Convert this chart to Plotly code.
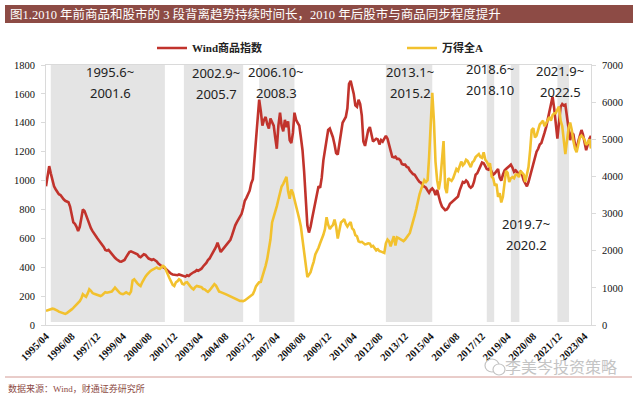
import plotly.graph_objects as go
import pandas as pd

# ---------------- data (monthly, 1995/04 - 2023/08) ----------------
commodity_1995_2002 = [
    960, 1030, 1100, 1050, 1000, 960, 940, 920, 905,
    900, 880, 870, 860, 855, 850, 820, 760, 710, 700, 680, 650,
    680, 740, 800, 790, 760, 720, 690, 670, 650, 630, 610, 600,
    585, 570, 560, 540, 520, 515, 520, 505, 490, 480, 465, 455,
    445, 440, 438, 445, 450, 470, 490, 505, 510, 505, 505, 500,
    490, 475, 470, 480, 490, 485, 470, 460, 455, 450, 455, 450,
    440, 425, 415, 410, 400, 395, 385, 370, 360, 355, 350, 348,
    350, 345, 350, 345, 340, 335, 335, 345, 340, 350, 360, 365,
]
commodity_2003_2010 = [
    370, 380, 375, 380, 390, 405, 415, 430, 450, 460, 480, 500,
    515, 540, 570, 530, 505, 520, 535, 545, 560, 580, 590, 620,
    660, 690, 710, 730, 750, 770, 810, 860, 880, 900, 930, 980,
    1010, 1150, 1280, 1420, 1560, 1480, 1380, 1420, 1440, 1390, 1360, 1430,
    1410, 1380, 1300, 1220, 1380, 1470, 1380, 1340, 1420, 1370, 1410, 1280,
    1260, 1330, 1470, 1420, 1400, 1380, 1300, 1210, 1060, 840, 690, 640,
    680, 740, 790, 850, 920, 960, 950, 1020, 1140, 1210, 1270, 1350,
    1360, 1330, 1300, 1250, 1190, 1180, 1250, 1300, 1400, 1420, 1440, 1500,
]
commodity_2011_2018 = [
    1670, 1690, 1650, 1600, 1520, 1510, 1560, 1530, 1450, 1270, 1240, 1290,
    1350, 1370, 1330, 1270, 1280, 1290, 1285, 1250, 1280, 1270, 1290, 1310,
    1290, 1250, 1200, 1165, 1160, 1165, 1150, 1150, 1140, 1115, 1110, 1110,
    1095, 1090, 1070, 1055, 1045, 1040, 1020, 1005, 990, 985, 965, 955,
    950, 930, 915, 935, 945, 930, 900, 935, 880, 850, 820, 805,
    795, 800, 815, 840, 850, 860, 870, 880, 890, 930, 970, 990,
    985, 1000, 990, 960, 950, 960, 990, 1040, 1050, 1080, 1100, 1125,
    1120, 1100, 1080, 1075, 1090, 1060, 1040, 1050, 1065, 1080, 1020, 1000,
]
commodity_2019_2023 = [
    1040, 1070, 1080, 1090, 1100, 1110, 1090, 1060, 1070, 1055, 1045, 1060,
    1040, 1000, 975, 960, 990, 1030, 1070, 1110, 1150, 1200, 1220, 1250,
    1260, 1290, 1330, 1370, 1420, 1490, 1520, 1580, 1500, 1380, 1290, 1400,
    1510, 1530, 1520, 1525, 1440, 1350, 1280, 1330, 1320, 1250, 1220, 1270,
    1320, 1350, 1320, 1270, 1210, 1250, 1290, 1310,
]

winda_1995_2002 = [
    380, 400, 420, 430, 440, 430, 420, 390, 360,
    340, 320, 300, 300, 320, 350, 375, 420, 460, 500, 560, 600,
    640, 720, 830, 790, 760, 850, 960, 920, 860, 840, 830, 810,
    790, 780, 800, 850, 885, 870, 880, 880, 900, 950, 1010, 960,
    900, 860, 840, 830, 850, 880, 850, 830, 900, 1200, 1230, 1160,
    1120, 1080, 1050, 1150, 1240, 1300, 1360, 1420, 1450, 1480, 1500, 1540,
    1550, 1520, 1510, 1560, 1590, 1560, 1450, 1370, 1260, 1170, 1080, 1050,
    1150, 1180, 1230, 1200, 1110, 1090, 1140, 1150, 1080, 1040, 990, 960,
]
winda_2003_2010 = [
    1020, 1050, 1040, 1040, 1020, 970, 960, 920, 890, 930, 990, 1070,
    1100, 1060, 990, 900, 885, 860, 840, 830, 810, 790, 770, 740,
    710, 700, 690, 660, 645, 650, 640, 660, 690, 730, 750, 790,
    830, 930, 1040, 1100, 1150, 1160, 1300, 1420, 1600, 1780, 2000, 2300,
    2760, 2900, 3030, 3200, 3380, 3550, 3730, 3800, 3900, 3990, 3600, 3400,
    3650, 3550, 3380, 3150, 3030, 2850, 2650, 2300, 1950, 1580, 1290, 1350,
    1420, 1580, 1700, 1900, 1980, 2080, 2200, 2300, 2430, 2580, 2900, 2700,
    2580, 2650, 2690, 2840, 2650, 2330, 2550, 2760, 2800, 2850, 2720, 2650,
]
winda_2011_2018 = [
    2720, 2770, 2600, 2560, 2420, 2390, 2250, 2230, 2240, 2210, 2170, 2180,
    2200, 2190, 2110, 2130, 2050, 2010, 2040, 1990, 1975, 1960, 1940, 2200,
    2300, 2250, 2120, 2260, 2390, 2140, 2360, 2340, 2310, 2290, 2260, 2300,
    2350, 2420, 2480, 2620, 2760, 2950, 3120, 3350, 3520, 3650, 3780, 3900,
    3850, 3900, 4500, 5400, 6250, 5500, 4400, 3900, 3650, 3900, 4500, 4950,
    3700, 3550, 3950, 3900, 3880, 3950, 4050, 4200, 4150, 4250, 4400, 4300,
    4350, 4450, 4420, 4330, 4250, 4380, 4420, 4520, 4560, 4600, 4520, 4500,
    4650, 4450, 4400, 4300, 4350, 4000, 3950, 3750, 3800, 3450, 3550, 3300,
]
winda_2019_2023 = [
    3450, 3900, 4150, 4100, 3850, 3950, 3980, 3950, 4050, 4050, 3980, 4150,
    4100, 4050, 3850, 4100, 4250, 4700, 5250, 5300, 5050, 5100, 5250, 5400,
    5450, 5500, 5350, 5450, 5550, 5600, 5500, 5650, 5700, 5700, 5800, 5880,
    5500, 5350, 5000, 4600, 4950, 5300, 5450, 5250, 4950, 4750, 4650, 4850,
    5050, 5100, 5050, 4990, 4850, 4900, 5000, 4750,
]

commodity = commodity_1995_2002 + commodity_2003_2010 + commodity_2011_2018 + commodity_2019_2023
wind_a = winda_1995_2002 + winda_2003_2010 + winda_2011_2018 + winda_2019_2023
months = pd.date_range("1995-04-01", periods=len(commodity), freq="MS")

x_tick_labels = ["1995/04", "1996/08", "1997/12", "1999/04", "2000/08", "2001/12",
                 "2003/04", "2004/08", "2005/12", "2007/04", "2008/08", "2009/12",
                 "2011/04", "2012/08", "2013/12", "2015/04", "2016/08", "2017/12",
                 "2019/04", "2020/08", "2021/12", "2023/04"]

shade_starts = ["1995-07-01", "2002-06-01", "2006-05-01", "2012-12-01", "2018-03-01", "2019-06-01", "2021-11-01"]
shade_ends = ["2001-06-05", "2005-07-01", "2008-03-01", "2015-05-01", "2018-07-20", "2019-11-10", "2022-06-10"]
period_line1 = ["1995.6~", "2002.9~", "2006.10~", "2013.1~", "2018.6~", "2021.9~", "2019.7~"]
period_line2 = ["2001.6", "2005.7", "2008.3", "2015.2", "2018.10", "2022.5", "2020.2"]

series_names = ["Wind商品指数", "万得全A"]
title_text = "图1.2010 年前商品和股市的 3 段背离趋势持续时间长，2010 年后股市与商品同步程度提升"
source_text = "数据来源：Wind，财通证券研究所"
watermark_text = "李美岑投资策略"

# ---------------- layout geometry (pixels) ----------------
W, H = 640, 396
PL, PR, PT, PB = 46, 591, 65, 325


def px(xp):
    return (xp - PL) / (PR - PL)


def py(yp):
    return (PB - yp) / (PB - PT)


RED = "#c1332c"
YEL = "#f2c12e"
SERIF = "Liberation Serif, Noto Sans CJK SC"

fig = go.Figure()
fig.add_trace(go.Scatter(x=months, y=commodity, name=series_names[0], mode="lines",
                         line=dict(color=RED, width=2.6), yaxis="y", legend="legend"))
fig.add_trace(go.Scatter(x=months, y=wind_a, name=series_names[1], mode="lines",
                         line=dict(color=YEL, width=2.6), yaxis="y2", legend="legend2"))

shapes = []
for s, e in zip(shade_starts, shade_ends):
    shapes.append(dict(type="rect", xref="x", yref="y", x0=s, x1=e, y0=20, y1=1800,
                       fillcolor="#e4e4e4", line=dict(width=0), layer="below"))
# title bar
shapes.append(dict(type="rect", xref="paper", yref="paper", x0=px(5), x1=px(633),
                   y0=py(23), y1=py(5), fillcolor="#8d4b45", line=dict(width=0)))
# bottom rule
shapes.append(dict(type="line", xref="paper", yref="paper", x0=px(5), x1=px(632),
                   y0=py(377), y1=py(377), line=dict(color="#d39a94", width=1)))
# watermark icon (two speech bubbles)
shapes.append(dict(type="circle", xref="paper", yref="paper", x0=px(485), x1=px(499),
                   y0=py(372), y1=py(359), line=dict(color="#c4c4c4", width=1.2)))
shapes.append(dict(type="circle", xref="paper", yref="paper", x0=px(493), x1=px(505),
                   y0=py(375), y1=py(364), line=dict(color="#c4c4c4", width=1.2),
                   fillcolor="white"))

annotations = []
label_pos = [(110, 72), (216, 73), (276, 72), (410, 72), (490, 69), (560, 71), (526, 224)]
for (cx, cy), t1, t2 in zip(label_pos, period_line1, period_line2):
    annotations.append(dict(text=t1, x=px(cx), y=py(cy), xref="paper", yref="paper",
                            showarrow=False, xanchor="center", yanchor="middle",
                            font=dict(family="Noto Sans", size=13, color="#222222")))
    annotations.append(dict(text=t2, x=px(cx), y=py(cy + 21), xref="paper", yref="paper",
                            showarrow=False, xanchor="center", yanchor="middle",
                            font=dict(family="Noto Sans", size=13, color="#222222")))

annotations.append(dict(text=title_text, x=px(8), y=py(14), xref="paper", yref="paper",
                        showarrow=False, xanchor="left", yanchor="middle",
                        font=dict(family=SERIF, size=12.5, color="white")))
annotations.append(dict(text=source_text, x=px(6), y=py(388), xref="paper", yref="paper",
                        showarrow=False, xanchor="left", yanchor="middle",
                        font=dict(family=SERIF, size=9, color="#8d4b45")))
annotations.append(dict(text=watermark_text, x=px(561), y=py(366), xref="paper", yref="paper",
                        showarrow=False, xanchor="center", yanchor="middle",
                        font=dict(family="Noto Sans CJK SC", size=16, color="#c4c4c4")))

tickvals = [pd.Timestamp(t.replace("/", "-") + "-01") for t in x_tick_labels]

fig.update_layout(
    width=W, height=H,
    margin=dict(l=PL, r=W - PR, t=PT, b=H - PB, pad=0, autoexpand=False),
    paper_bgcolor="white", plot_bgcolor="white",
    showlegend=True,
    legend=dict(x=px(152), y=py(48), xanchor="left", yanchor="middle", orientation="h",
                font=dict(family=SERIF, size=11, color="#222222", weight="bold"),
                bgcolor="rgba(0,0,0,0)", itemwidth=30),
    legend2=dict(x=px(402), y=py(48), xanchor="left", yanchor="middle", orientation="h",
                 font=dict(family=SERIF, size=11, color="#222222", weight="bold"),
                 bgcolor="rgba(0,0,0,0)", itemwidth=30),
    xaxis=dict(type="date", range=[months[0], months[-1]], tickvals=tickvals,
               ticktext=x_tick_labels, tickangle=-45, showgrid=False, zeroline=False,
               showline=True, linecolor="#dadada", linewidth=1, mirror=True, ticks="",
               automargin=False,
               tickfont=dict(family="Liberation Serif", size=10.5, color="#111111", weight="bold")),
    yaxis=dict(range=[0, 1800], dtick=200, showgrid=False, zeroline=False, automargin=False,
               showline=True, linecolor="#dadada", linewidth=1, ticks="outside",
               ticklen=4, tickcolor="#dadada", ticklabelstandoff=4,
               tickfont=dict(family="Liberation Serif", size=10.5, color="#111111")),
    yaxis2=dict(range=[0, 7000], dtick=1000, overlaying="y", side="right", showgrid=False,
                zeroline=False, showline=True, linecolor="#dadada", linewidth=1, automargin=False,
                ticks="outside", ticklen=4, tickcolor="#dadada", ticklabelstandoff=4,
                tickfont=dict(family="Liberation Serif", size=10.5, color="#111111")),
    shapes=shapes,
    annotations=annotations,
)

fig.write_html("out.html", config={"displayModeBar": False},
               post_script="document.body.style.margin='0';document.body.style.padding='0';")
